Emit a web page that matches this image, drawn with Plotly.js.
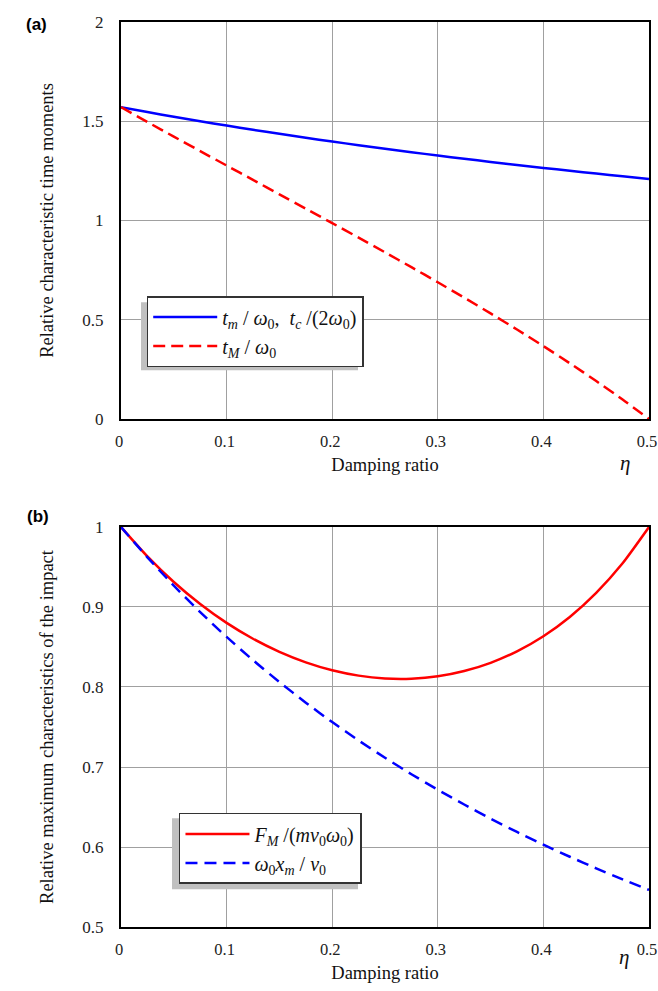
<!DOCTYPE html>
<html>
<head>
<meta charset="utf-8">
<script src="https://cdn.plot.ly/plotly-3.0.1.min.js"></script>
<style>html,body{margin:0;padding:0;background:#fff;}#chart{width:658px;height:991px;}</style>
</head>
<body>
<div id="chart"></div>
<script>
// Damping ratio samples
const eta = [0, 0.025, 0.05, 0.075, 0.1, 0.125, 0.15, 0.175, 0.2, 0.225, 0.25,
             0.275, 0.3, 0.325, 0.35, 0.375, 0.4, 0.425, 0.45, 0.475, 0.5];
// (a) relative characteristic time moments
const tmRel = [1.5708, 1.5463, 1.5227, 1.5000, 1.4780, 1.4569, 1.4364, 1.4168, 1.3977, 1.3792, 1.3613,
               1.3440, 1.3272, 1.3110, 1.2951, 1.2798, 1.2649, 1.2504, 1.2362, 1.2226, 1.2092];
const tMRel = [1.5708, 1.4963, 1.4225, 1.3494, 1.2769, 1.2043, 1.1318, 1.0594, 0.9867, 0.9134, 0.8394,
               0.7645, 0.6888, 0.6109, 0.5317, 0.4505, 0.3669, 0.2805, 0.1909, 0.0976, 0.0];
// (b) relative maximum characteristics of the impact
const FMRel = [1.0, 0.9633, 0.9313, 0.9037, 0.8801, 0.8603, 0.8439, 0.8308, 0.8209, 0.8142, 0.8107,
               0.8104, 0.8133, 0.8199, 0.8302, 0.8446, 0.8635, 0.8876, 0.9177, 0.9547, 1.0];
const xmRel = [1.0, 0.9621, 0.9267, 0.8936, 0.8626, 0.8335, 0.8062, 0.7804, 0.7561, 0.7332, 0.7115,
               0.6910, 0.6716, 0.6531, 0.6355, 0.6188, 0.6029, 0.5878, 0.5733, 0.5595, 0.5463];

const xTicks = [0, 0.1, 0.2, 0.3, 0.4, 0.5];
const xTickText = ["0", "0.1", "0.2", "0.3", "0.4", "0.5"];
const yTicksA = [0, 0.5, 1, 1.5, 2];
const yTickTextA = ["0", "0.5", "1", "1.5", "2"];
const yTicksB = [0.5, 0.6, 0.7, 0.8, 0.9, 1];
const yTickTextB = ["0.5", "0.6", "0.7", "0.8", "0.9", "1"];

const nameA1 = "<i>t<sub>m</sub></i> / <i>ω</i><sub>0</sub>,  <i>t<sub>c</sub></i> /(2<i>ω</i><sub>0</sub>)";
const nameA2 = "<i>t<sub>M</sub></i> / <i>ω</i><sub>0</sub>";
const nameB1 = "<i>F<sub>M</sub></i> /(<i>mv</i><sub>0</sub><i>ω</i><sub>0</sub>)";
const nameB2 = "<i>ω</i><sub>0</sub><i>x<sub>m</sub></i> / <i>v</i><sub>0</sub>";

const serif = "Liberation Serif, Times New Roman, serif";

const traces = [
  {x: eta, y: tmRel, xaxis: 'x', yaxis: 'y', type: 'scatter', mode: 'lines', name: nameA1,
   line: {color: '#0000ff', width: 2.5, shape: 'spline', smoothing: 0.6}, legend: 'legend'},
  {x: eta, y: tMRel, xaxis: 'x', yaxis: 'y', type: 'scatter', mode: 'lines', name: nameA2,
   line: {color: '#ff0000', width: 2.5, dash: '12px,6px', shape: 'spline', smoothing: 0.6}, legend: 'legend'},
  {x: eta, y: FMRel, xaxis: 'x2', yaxis: 'y2', type: 'scatter', mode: 'lines', name: nameB1,
   line: {color: '#ff0000', width: 2.5, shape: 'spline', smoothing: 0.6}, legend: 'legend2'},
  {x: eta, y: xmRel, xaxis: 'x2', yaxis: 'y2', type: 'scatter', mode: 'lines', name: nameB2,
   line: {color: '#0000ff', width: 2.5, dash: '12px,7px', shape: 'spline', smoothing: 0.6}, legend: 'legend2'}
];

const axX = (anchor) => ({
  anchor: anchor, range: [0, 0.5], tickvals: xTicks, ticktext: xTickText,
  showgrid: true, gridcolor: '#a0a0a0', gridwidth: 1, zeroline: false,
  showline: true, linecolor: '#000', linewidth: 2, mirror: true,
  ticks: '', ticklabelstandoff: 6, ticklabelshift: -2, ticklabeloverflow: 'allow',
  tickfont: {family: serif, size: 16.5, color: '#222'},
  title: {text: 'Damping ratio', font: {family: serif, size: 18.5, color: '#111'}, standoff: 8}
});
const axY = (anchor, domain, rng, tv, tt, title) => ({
  anchor: anchor, domain: domain, range: rng, tickvals: tv, ticktext: tt,
  showgrid: true, gridcolor: '#a0a0a0', gridwidth: 1, zeroline: false,
  showline: true, linecolor: '#000', linewidth: 2, mirror: true,
  ticks: '', ticklabelstandoff: 12,
  tickfont: {family: serif, size: 17, color: '#222'},
  title: {text: title, font: {family: serif, size: 18.5, color: '#111'}, standoff: 24}
});

const legendStyle = (x, y) => ({
  x: x, y: y, xanchor: 'left', yanchor: 'top', xref: 'paper', yref: 'paper',
  bgcolor: '#ffffff', bordercolor: '#333', borderwidth: 1.5,
  font: {family: serif, size: 20, color: '#111'}, itemwidth: 64, traceorder: 'normal'
});

const layout = {
  width: 658, height: 991,
  margin: {l: 121, r: 9, t: 22, b: 64},
  paper_bgcolor: '#fff', plot_bgcolor: '#fff',
  showlegend: true,
  xaxis: axX('y'),
  yaxis: axY('x', [0.5614, 1], [0, 2], yTicksA, yTickTextA, 'Relative characteristic time moments'),
  xaxis2: axX('y2'),
  yaxis2: axY('x2', [0, 0.442], [0.5, 1], yTicksB, yTickTextB, 'Relative maximum characteristics of the impact'),
  legend: legendStyle(0.0487, 0.6972),
  legend2: legendStyle(0.1098, 0.126),
  shapes: [
    {type: 'rect', xref: 'paper', yref: 'paper', layer: 'above',
     x0: (141 - 121) / 528, x1: (358 - 121) / 528, y0: (926.7 - 370) / 905, y1: (926.7 - 302) / 905,
     fillcolor: '#c0c0c0', line: {width: 0}},
    {type: 'rect', xref: 'paper', yref: 'paper', layer: 'above',
     x0: (172 - 121) / 528, x1: (358 - 121) / 528, y0: (926.7 - 889) / 905, y1: (926.7 - 818) / 905,
     fillcolor: '#c0c0c0', line: {width: 0}}
  ],
  annotations: [
    {text: '<b>(a)</b>', xref: 'paper', yref: 'paper', x: (24 - 121) / 528, y: (926.7 - 13) / 905,
     showarrow: false, font: {family: 'Liberation Sans, Arial, sans-serif', size: 17, color: '#000'}},
    {text: '<b>(b)</b>', xref: 'paper', yref: 'paper', x: (25 - 121) / 528, y: (926.7 - 516) / 905,
     showarrow: false, font: {family: 'Liberation Sans, Arial, sans-serif', size: 17, color: '#000'}},
    {text: '<i>η</i>', xref: 'paper', yref: 'paper', x: (631.5 - 121) / 528, y: (926.7 - 463) / 905,
     showarrow: false, font: {family: serif, size: 21, color: '#111'}},
    {text: '<i>η</i>', xref: 'paper', yref: 'paper', x: (631 - 121) / 528, y: (926.7 - 971) / 905,
     showarrow: false, font: {family: serif, size: 21, color: '#111'}}
  ]
};

Plotly.newPlot('chart', traces, layout, {displayModeBar: false});
</script>
</body>
</html>
